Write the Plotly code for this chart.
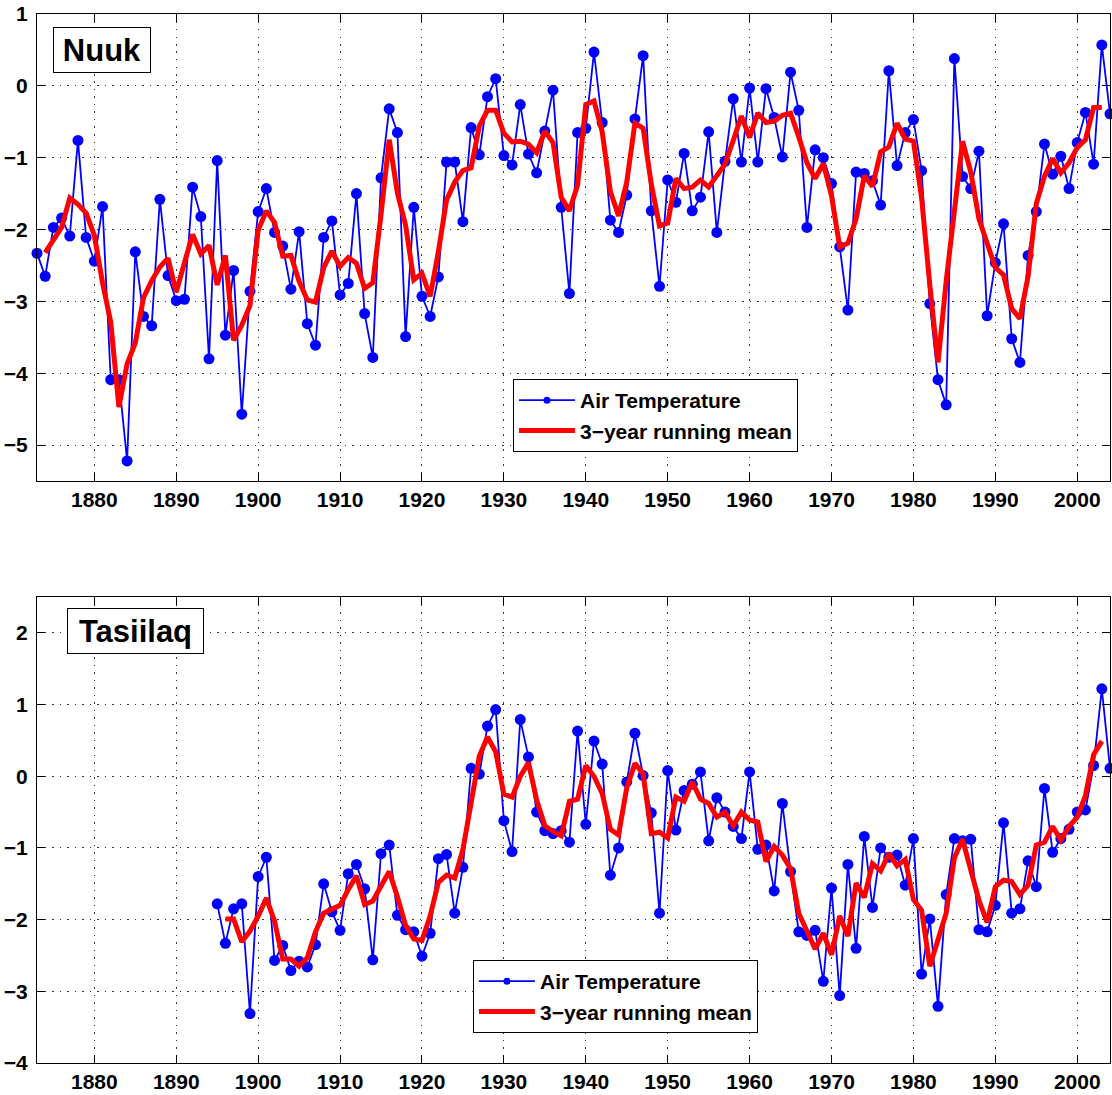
import plotly.graph_objects as go

# ---------------- data ----------------
nuuk_years = list(range(1873, 2005))
nuuk_temp = [
    -2.33, -2.65, -1.97, -1.84, -2.09, -0.76, -2.11, -2.44, -1.68, -4.09,   # 1873-1882
    -4.09, -5.22, -2.31, -3.21, -3.34, -1.58, -2.64, -2.99, -2.97, -1.41,   # 1883-1892
    -1.82, -3.80, -1.04, -3.47, -2.57, -4.57, -2.86, -1.75, -1.43, -2.04,   # 1893-1902
    -2.23, -2.83, -2.03, -3.31, -3.61, -2.11, -1.88, -2.91, -2.75, -1.50,   # 1903-1912
    -3.17, -3.78, -1.28, -0.32, -0.65, -3.49, -1.69, -2.93, -3.21, -2.66,   # 1913-1922
    -1.06, -1.06, -1.89, -0.58, -0.96, -0.15, 0.10, -0.97, -1.10, -0.26,    # 1923-1932
    -0.95, -1.21, -0.63, -0.06, -1.69, -2.89, -0.65, -0.59, 0.47, -0.51,    # 1933-1942
    -1.87, -2.04, -1.52, -0.46, 0.42, -1.74, -2.79, -1.31, -1.62, -0.94,    # 1943-1952
    -1.74, -1.55, -0.64, -2.04, -1.05, -0.18, -1.06, -0.03, -1.06, -0.04,   # 1953-1962
    -0.44, -0.99, 0.19, -0.34, -1.97, -0.89, -1.00, -1.36, -2.24, -3.12,    # 1963-1972
    -1.20, -1.22, -1.32, -1.66, 0.21, -1.11, -0.65, -0.47, -1.18, -3.03,    # 1973-1982
    -4.09, -4.44, 0.38, -1.26, -1.43, -0.91, -3.20, -2.46, -1.92, -3.52,    # 1983-1992
    -3.85, -2.36, -1.75, -0.81, -1.23, -0.98, -1.43, -0.79, -0.37, -1.09,   # 1993-2002
    0.57, -0.39,                                                             # 2003-2004
]
nuuk_mean_years = list(range(1874, 2004))
nuuk_mean = [
    -2.32, -2.15, -1.97, -1.56, -1.65, -1.77, -2.08, -2.74, -3.29,          # 1874-1882
    -4.47, -3.87, -3.58, -2.95, -2.71, -2.52, -2.40, -2.87, -2.46, -2.07,   # 1883-1892
    -2.34, -2.22, -2.77, -2.36, -3.54, -3.33, -3.06, -2.01, -1.74, -1.90,   # 1893-1902
    -2.37, -2.36, -2.72, -2.98, -3.01, -2.53, -2.30, -2.51, -2.39, -2.47,   # 1903-1912
    -2.82, -2.74, -1.79, -0.75, -1.49, -1.94, -2.70, -2.61, -2.93, -2.31,   # 1913-1922
    -1.59, -1.34, -1.18, -1.14, -0.56, -0.34, -0.34, -0.66, -0.78, -0.77,   # 1923-1932
    -0.81, -0.93, -0.63, -0.79, -1.55, -1.74, -1.38, -0.26, -0.21, -0.64,   # 1933-1942
    -1.47, -1.81, -1.34, -0.52, -0.59, -1.37, -1.95, -1.91, -1.29, -1.43,   # 1943-1952
    -1.41, -1.31, -1.41, -1.24, -1.09, -0.76, -0.42, -0.72, -0.38, -0.51,   # 1953-1962
    -0.49, -0.41, -0.38, -0.71, -1.07, -1.29, -1.08, -1.53, -2.24, -2.19,   # 1963-1972
    -1.85, -1.25, -1.40, -0.92, -0.85, -0.52, -0.74, -0.77, -1.56, -2.77,   # 1973-1982
    -3.85, -2.72, -1.77, -0.77, -1.20, -1.85, -2.19, -2.53, -2.63, -3.10,   # 1983-1992
    -3.24, -2.65, -1.64, -1.26, -1.01, -1.21, -1.07, -0.86, -0.75, -0.30,   # 1993-2002
    -0.30,                                                                   # 2003
]

tas_years = list(range(1895, 2005))
tas_temp = [
    -1.78, -2.33, -1.85, -1.78, -3.31, -1.40, -1.13, -2.57,                 # 1895-1902
    -2.36, -2.71, -2.58, -2.66, -2.35, -1.50, -1.89, -2.15, -1.36, -1.23,   # 1903-1912
    -1.57, -2.56, -1.08, -0.96, -1.94, -2.14, -2.17, -2.51, -2.19, -1.15,   # 1913-1922
    -1.09, -1.91, -1.27, 0.11, 0.03, 0.70, 0.93, -0.62, -1.05, 0.79,        # 1923-1932
    0.27, -0.50, -0.76, -0.80, -0.76, -0.92, 0.63, -0.67, 0.49, 0.17,       # 1933-1942
    -1.38, -1.00, -0.08, 0.60, 0.01, -0.51, -1.91, 0.08, -0.75, -0.20,      # 1943-1952
    -0.11, 0.06, -0.90, -0.30, -0.50, -0.70, -0.87, 0.06, -1.02, -0.96,     # 1953-1962
    -1.60, -0.38, -1.33, -2.17, -2.22, -2.15, -2.86, -1.56, -3.06, -1.23,   # 1963-1972
    -2.40, -0.84, -1.83, -1.00, -1.13, -1.10, -1.52, -0.87, -2.76, -1.99,   # 1973-1982
    -3.21, -1.65, -0.87, -0.90, -0.88, -2.14, -2.17, -1.80, -0.65, -1.91,   # 1983-1992
    -1.85, -1.18, -1.54, -0.17, -1.06, -0.87, -0.74, -0.50, -0.47, 0.15,    # 1993-2002
    1.22, 0.11,                                                              # 2003-2004
]
tas_mean_years = list(range(1896, 2004))
tas_mean = [
    -1.99, -1.99, -2.31, -2.16, -1.95, -1.70, -2.02,                        # 1896-1902
    -2.55, -2.55, -2.65, -2.53, -2.17, -1.91, -1.85, -1.80, -1.58, -1.39,   # 1903-1912
    -1.79, -1.74, -1.53, -1.33, -1.68, -2.08, -2.27, -2.29, -1.95, -1.48,   # 1913-1922
    -1.38, -1.42, -1.02, -0.38, 0.28, 0.55, 0.34, -0.25, -0.29, 0.00,       # 1923-1932
    0.19, -0.33, -0.69, -0.77, -0.83, -0.35, -0.32, 0.15, 0.00, -0.24,      # 1933-1942
    -0.74, -0.82, -0.16, 0.18, 0.03, -0.80, -0.78, -0.86, -0.29, -0.35,     # 1943-1952
    -0.08, -0.32, -0.38, -0.57, -0.50, -0.69, -0.50, -0.61, -0.64, -1.19,   # 1953-1962
    -0.98, -1.10, -1.29, -1.91, -2.18, -2.41, -2.19, -2.49, -1.95, -2.23,   # 1963-1972
    -1.49, -1.69, -1.22, -1.32, -1.08, -1.25, -1.16, -1.72, -1.87, -2.65,   # 1973-1982
    -2.28, -1.91, -1.14, -0.88, -1.31, -1.73, -2.04, -1.54, -1.45, -1.47,   # 1983-1992
    -1.65, -1.52, -0.96, -0.92, -0.70, -0.89, -0.70, -0.57, -0.27, 0.30,    # 1993-2002
    0.49,                                                                    # 2003
]

x_ticks = [1880, 1890, 1900, 1910, 1920, 1930, 1940, 1950, 1960, 1970, 1980, 1990, 2000]
nuuk_yticks = [-5, -4, -3, -2, -1, 0, 1]
tas_yticks = [-4, -3, -2, -1, 0, 1, 2]
series_names = ["Air Temperature", "3\u2212year running mean"]

# ---------------- styling ----------------
FONT = "Liberation Sans, Arial, Helvetica, sans-serif"
BLUE = "#0000ff"
RED = "#ff0000"

fig = go.Figure()

def add_panel(years, temp, myears, mean, xa, ya, leg):
    fig.add_trace(go.Scatter(
        x=years, y=temp, xaxis=xa, yaxis=ya, mode="lines+markers",
        line=dict(color=BLUE, width=1.8),
        marker=dict(color=BLUE, size=11),
        cliponaxis=False, showlegend=False, hoverinfo="x+y"))
    fig.add_trace(go.Scatter(
        x=myears, y=mean, xaxis=xa, yaxis=ya, mode="lines",
        line=dict(color=RED, width=5), showlegend=False, hoverinfo="x+y"))
    # legend-only entries (small marker like the original legend)
    fig.add_trace(go.Scatter(
        x=[None], y=[None], xaxis=xa, yaxis=ya, mode="lines+markers",
        name=series_names[0], line=dict(color=BLUE, width=1.8),
        marker=dict(color=BLUE, size=7), legend=leg))
    fig.add_trace(go.Scatter(
        x=[None], y=[None], xaxis=xa, yaxis=ya, mode="lines",
        name=series_names[1], line=dict(color=RED, width=5), legend=leg))

add_panel(nuuk_years, nuuk_temp, nuuk_mean_years, nuuk_mean, "x", "y", "legend")
add_panel(tas_years, tas_temp, tas_mean_years, tas_mean, "x2", "y2", "legend2")

tickfont = dict(family=FONT, size=21, color="black", weight="bold")

def xaxis_style(anchor):
    return dict(
        anchor=anchor, domain=[0, 1], range=[1873, 2004],
        tickmode="array", tickvals=x_ticks,
        ticks="inside", ticklen=8, tickcolor="black", tickwidth=1,
        showline=True, linecolor="black", linewidth=1, mirror="ticks",
        showgrid=True, gridcolor="#333333", gridwidth=1, griddash="1.5px,6px",
        zeroline=False, tickfont=tickfont, ticklabelstandoff=0,
    )

def yaxis_style(anchor, domain, rng, ticks):
    return dict(
        anchor=anchor, domain=domain, range=rng,
        tickmode="array", tickvals=ticks,
        ticks="inside", ticklen=8, tickcolor="black", tickwidth=1,
        showline=True, linecolor="black", linewidth=1, mirror="ticks",
        showgrid=True, gridcolor="#333333", gridwidth=1, griddash="1.5px,6px",
        zeroline=False, tickfont=tickfont, ticklabelstandoff=4,
    )

legend_common = dict(
    bgcolor="white", bordercolor="black", borderwidth=1,
    font=dict(family=FONT, size=21, color="black", weight="bold"),
    xanchor="left", yanchor="top", itemwidth=56, tracegroupgap=0,
    itemclick=False,
)

fig.update_layout(
    width=1112, height=1095,
    margin=dict(l=37, r=2, t=14, b=32),
    paper_bgcolor="white", plot_bgcolor="white",
    font=dict(family=FONT, color="black"),
    xaxis=xaxis_style("y"),
    yaxis=yaxis_style("x", [0.5548, 1.0], [-5.5, 1], nuuk_yticks),
    xaxis2=xaxis_style("y2"),
    yaxis2=yaxis_style("x2", [0.0, 0.4442], [-4, 2.5], tas_yticks),
    legend=dict(x=0.4436, y=0.652, **legend_common),
    legend2=dict(x=0.4063, y=0.0982, **legend_common),
    annotations=[
        dict(text="Nuuk", xref="paper", yref="paper", x=0.0149, y=0.9876,
             xanchor="left", yanchor="top", showarrow=False,
             font=dict(family=FONT, size=31, color="black", weight="bold"),
             bgcolor="white", bordercolor="black", borderwidth=1,
             width=96, height=44, borderpad=0),
        dict(text="Tasiilaq", xref="paper", yref="paper", x=0.028, y=0.4337,
             xanchor="left", yanchor="top", showarrow=False,
             font=dict(family=FONT, size=31, color="black", weight="bold"),
             bgcolor="white", bordercolor="black", borderwidth=1,
             width=135, height=44, borderpad=0),
    ],
)

fig.write_html(
    "out.html",
    config={"displayModeBar": False},
    post_script="document.body.style.margin='0';document.body.style.overflow='hidden';",
)
